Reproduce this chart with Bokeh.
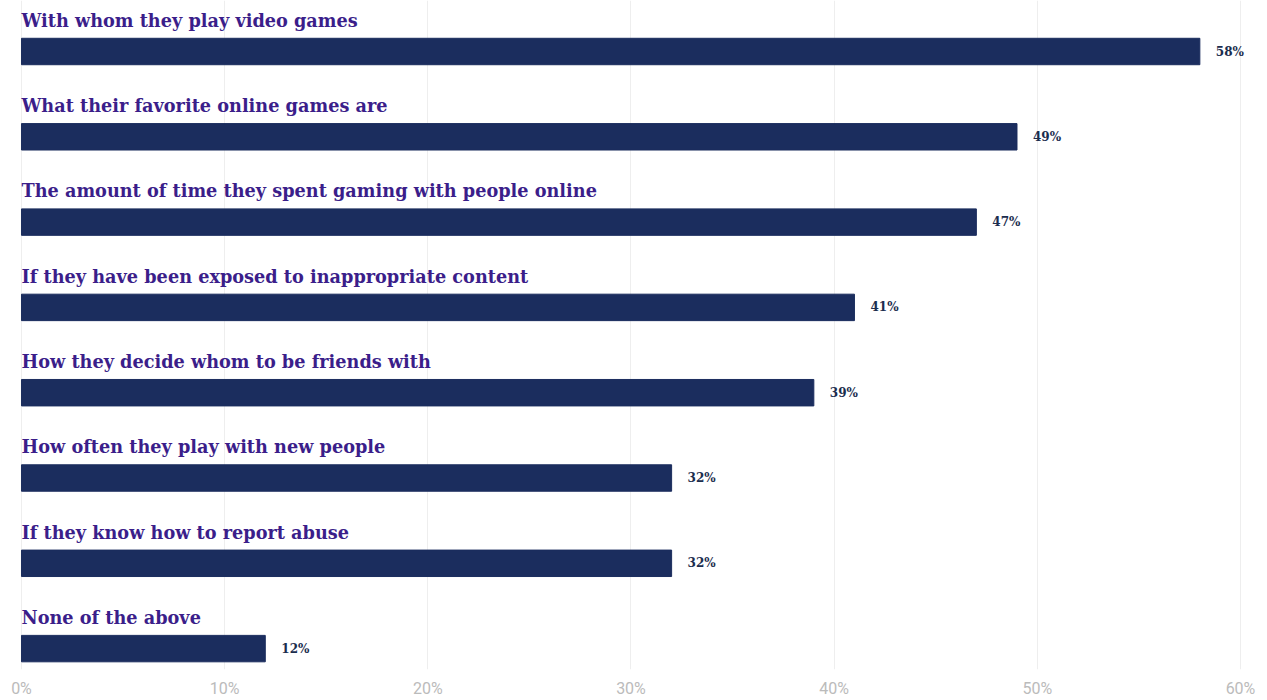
from bokeh.plotting import figure
from bokeh.models import ColumnDataSource, FixedTicker, CustomJSTickFormatter, Range1d
from bokeh.core.properties import value
from bokeh.embed import file_html
from bokeh.resources import INLINE

categories = [
    "With whom they play video games",
    "What their favorite online games are",
    "The amount of time they spent gaming with people online",
    "If they have been exposed to inappropriate content",
    "How they decide whom to be friends with",
    "How often they play with new people",
    "If they know how to report abuse",
    "None of the above",
]
values = [58, 49, 47, 41, 39, 32, 32, 12]
value_labels = ["58%", "49%", "47%", "41%", "39%", "32%", "32%", "12%"]
tick_values = [0, 10, 20, 30, 40, 50, 60]

pos = list(range(len(categories)))
src = ColumnDataSource(dict(
    y=pos,
    ylab=[p - 0.365 for p in pos],
    v=values,
    cat=categories,
    vlab=value_labels,
    zero=[0] * len(values),
))

p = figure(width=1267, height=700, output_backend="svg", toolbar_location=None,
           x_range=Range1d(-1.033, 61.33), y_range=Range1d(7.245, -0.598),
           min_border=0, outline_line_color=None)
p.background_fill_color = "white"
p.border_fill_color = "white"

p.hbar(y="y", left=0, right="v", height=0.31, source=src,
       fill_color="#1b2d5e", line_color="#1b2d5e")

p.text(x="zero", y="ylab", text="cat", source=src,
       text_font=value("DejaVu Serif"), text_font_size="17.7px", text_font_style="bold",
       text_color="#3b1e8a", text_baseline="middle", text_align="left")

p.text(x="v", y="y", text="vlab", source=src, x_offset=16,
       text_font=value("DejaVu Serif"), text_font_size="12px", text_font_style="bold",
       text_color="#1b2d4e", text_baseline="middle", text_align="left")

p.yaxis.visible = False
p.ygrid.grid_line_color = None
p.xgrid.ticker = FixedTicker(ticks=tick_values)
p.xgrid.grid_line_color = "#eeeeee"
p.xaxis.ticker = FixedTicker(ticks=tick_values)
p.xaxis.formatter = CustomJSTickFormatter(code="return tick + '%';")
p.xaxis.axis_line_color = None
p.xaxis.major_tick_line_color = None
p.xaxis.minor_tick_line_color = None
p.xaxis.major_label_standoff = 3
p.xaxis.major_label_text_font = "Roboto"
p.xaxis.major_label_text_font_size = "16px"
p.xaxis.major_label_text_color = "#bbbbbb"

open("out.html", "w").write(file_html(p, INLINE))
